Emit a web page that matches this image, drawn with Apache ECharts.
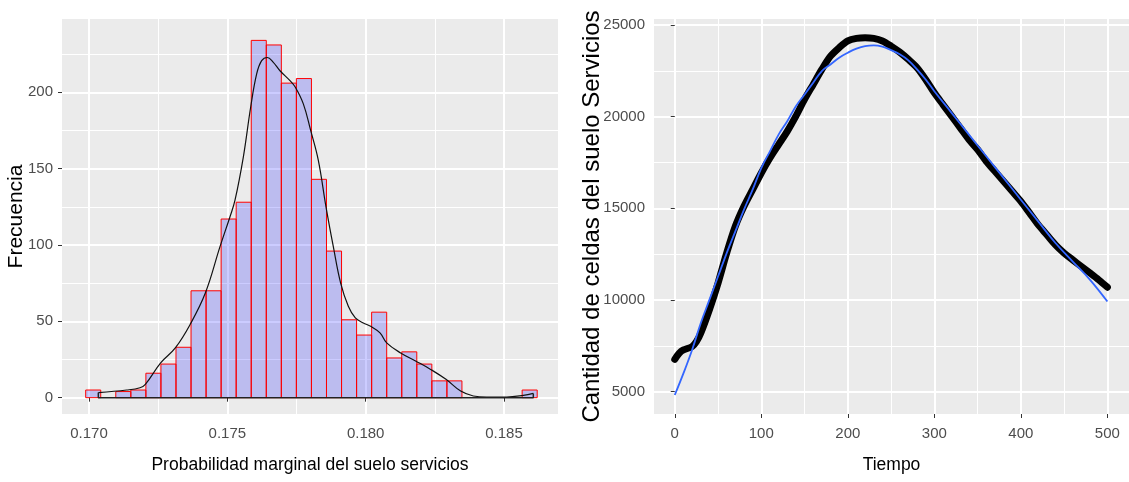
<!DOCTYPE html>
<html><head><meta charset="utf-8">
<script src="https://cdn.jsdelivr.net/npm/echarts@6/dist/echarts.min.js"></script>
<style>html,body{margin:0;padding:0;background:#fff}#c{width:1129px;height:482px}</style>
</head><body><div id="c"></div>
<script>
// ---- Histogram (left) ----
const binStart = 0.16988;
const binEnd = 0.18620;
const binCounts = [5,0,4,5,16,22,33,70,70,117,128,234,231,206,209,143,96,51,41,56,26,30,22,11,11,0,0,0,0,5];
const densX = [0.170337,0.171361,0.171843,0.172036,0.172590,0.173120,0.173651,0.174205,0.174735,0.175096,0.175277,0.175578,0.175843,0.176060,0.176241,0.176446,0.176662,0.176903,0.177265,0.177458,0.177747,0.178012,0.178289,0.178566,0.178831,0.179096,0.179373,0.179626,0.179915,0.180181,0.180518,0.180759,0.181265,0.181819,0.182349,0.182903,0.183434,0.183891,0.184373,0.185096,0.185698,0.186060];
const densY = [3.3,5.0,6.5,8.7,22.8,32.6,47.8,68.5,98.9,118.5,129.3,157.6,190.2,212.0,220.7,222.8,219.6,214.1,207.6,203.3,192.4,175.0,155.4,125.0,98.9,75.0,59.8,52.2,48.9,46.7,42.4,35.9,29.3,23.9,18.5,12.0,4.3,1.1,0.4,0.4,1.5,2.8];
const histXTicks = [0.170,0.175,0.180,0.185];
const histXMinor = [0.1725,0.1775,0.1825];
const histYTicks = [0,50,100,150,200];
const histYMinor = [25,75,125,175,225];

// ---- Time series (right) ----
const timeBlack = [0,5,10,20,25,30,40,50,60,70,80,90,100,110,120,130,140,150,160,170,180,190,200,210,220,230,240,250,260,270,280,290,300,310,320,330,340,350,360,370,380,390,400,410,420,430,440,450,460,470,480,490,500];
const cellsBlack = [6767,7095,7277,7460,7732,8188,9463,10920,12560,14020,15110,16020,16930,17750,18480,19200,20030,20940,21760,22580,23300,23760,24130,24270,24310,24270,24130,23850,23520,23120,22670,22030,21300,20660,20030,19390,18750,18210,17570,17020,16480,15930,15380,14750,14110,13560,13010,12560,12190,11830,11470,11100,10700];
const timeBlue = [0,10,20,30,40,50,60,70,80,90,100,110,120,130,140,150,160,170,180,190,200,210,220,230,240,250,260,270,280,290,300,320,340,360,380,400,420,440,460,480,500];
const cellsBlue = [4818,5998,7277,8734,10010,11280,12560,13740,14930,16020,17200,18110,19020,19750,20570,21210,21850,22490,22850,23220,23490,23710,23850,23890,23820,23630,23400,23070,22580,22030,21390,20210,19020,17840,16660,15470,14290,13110,12100,11100,9918];
const timeTicks = [0,100,200,300,400,500];
const timeMinor = [50,150,250,350,450];
const cellTicks = [5000,10000,15000,20000,25000];
const cellMinor = [7500,12500,17500,22500];

const SANS = "'Liberation Sans',Arial,sans-serif";
const labelStyle = {fontFamily: SANS, fontSize: 15, color: '#4D4D4D'};

const binW = (binEnd - binStart) / binCounts.length;
const histData = binCounts.map((c, i) => [binStart + i * binW, binStart + (i + 1) * binW, c]);
const densData = densX.map((x, i) => [x, densY[i]]);
const densBase = [[densX[0], densY[0]], [densX[0], 0], [densX[densX.length - 1], 0], [densX[densX.length - 1], densY[densY.length - 1]]];

function mainAxis(gridIndex, min, max, ticks, extra) {
  return Object.assign({
    type: 'value', gridIndex, min, max,
    nameMoveOverlap: false,
    axisLine: {show: false},
    axisTick: {show: true, length: 4, lineStyle: {color: '#333333', width: 1}, customValues: ticks},
    axisLabel: Object.assign({customValues: ticks}, labelStyle),
    splitLine: {show: true, lineStyle: {color: '#FFFFFF', width: 2}}
  }, extra || {});
}
function minorAxis(gridIndex, min, max, ticks) {
  return {
    type: 'value', gridIndex, min, max,
    axisLine: {show: false},
    axisTick: {show: false, customValues: ticks},
    axisLabel: {show: false, customValues: ticks},
    splitLine: {show: true, lineStyle: {color: '#FFFFFF', width: 1}}
  };
}

const chart = echarts.init(document.getElementById('c'), null, {renderer: 'canvas'});
chart.setOption({
  animation: false,
  backgroundColor: '#FFFFFF',
  grid: [
    {left: 62, top: 19, width: 496, height: 395, show: true, backgroundColor: '#EBEBEB', borderWidth: 0},
    {left: 654, top: 19, right: -7, height: 395, show: true, backgroundColor: '#EBEBEB', borderWidth: 0}
  ],
  xAxis: [
    mainAxis(0, 0.169024, 0.186952, histXTicks, {
      name: 'Probabilidad marginal del suelo servicios', nameLocation: 'middle', nameGap: 42,
      nameTextStyle: {fontFamily: SANS, fontSize: 17.5, color: '#000000'},
      axisLabel: Object.assign({customValues: histXTicks, margin: 12, formatter: v => v.toFixed(3)}, labelStyle)
    }),
    minorAxis(0, 0.169024, 0.186952, histXMinor),
    mainAxis(1, -24, 525, timeTicks, {
      name: 'Tiempo', nameLocation: 'middle', nameGap: 42,
      nameTextStyle: {fontFamily: SANS, fontSize: 17.5, color: '#000000'},
      axisLabel: Object.assign({customValues: timeTicks, margin: 12}, labelStyle)
    }),
    minorAxis(1, -24, 525, timeMinor)
  ],
  yAxis: [
    mainAxis(0, -10.7, 248, histYTicks, {
      name: 'Frecuencia', nameLocation: 'middle', nameGap: 35,
      nameTextStyle: {fontFamily: SANS, fontSize: 21, color: '#000000'},
      axisLabel: Object.assign({customValues: histYTicks, margin: 9}, labelStyle)
    }),
    minorAxis(0, -10.7, 248, histYMinor),
    mainAxis(1, 3783, 25327, cellTicks, {
      name: 'Cantidad de celdas del suelo Servicios', nameLocation: 'middle', nameGap: 50,
      nameTextStyle: {fontFamily: SANS, fontSize: 24, color: '#000000'},
      axisLabel: Object.assign({customValues: cellTicks, margin: 9, formatter: v => String(v)}, labelStyle)
    }),
    minorAxis(1, 3783, 25327, cellMinor)
  ],
  series: [
    {
      type: 'custom', xAxisIndex: 0, yAxisIndex: 0, data: histData, z: 3,
      renderItem: function (params, api) {
        const c = api.value(2);
        if (!c) return null;
        const p0 = api.coord([api.value(0), c]);
        const p1 = api.coord([api.value(1), 0]);
        return {
          type: 'rect',
          shape: {x: p0[0], y: p0[1], width: p1[0] - p0[0], height: p1[1] - p0[1]},
          style: {fill: 'rgba(0,0,255,0.2)', stroke: '#FF0000', lineWidth: 1}
        };
      }
    },
    {
      type: 'line', xAxisIndex: 0, yAxisIndex: 0, data: densData, smooth: 0.4, showSymbol: false, z: 4,
      lineStyle: {color: '#111111', width: 1.2}
    },
    {
      type: 'line', xAxisIndex: 0, yAxisIndex: 0, data: densBase, showSymbol: false, z: 4,
      lineStyle: {color: '#222222', width: 1.5}
    },
    {
      type: 'line', xAxisIndex: 2, yAxisIndex: 2, data: timeBlack.map((t, i) => [t, cellsBlack[i]]),
      smooth: 0.3, showSymbol: false, z: 3,
      lineStyle: {color: '#000000', width: 7, cap: 'round', join: 'round'}
    },
    {
      type: 'line', xAxisIndex: 2, yAxisIndex: 2, data: timeBlue.map((t, i) => [t, cellsBlue[i]]),
      smooth: 0.4, showSymbol: false, z: 4,
      lineStyle: {color: '#3366FF', width: 1.8}
    }
  ]
});
</script>
</body></html>
